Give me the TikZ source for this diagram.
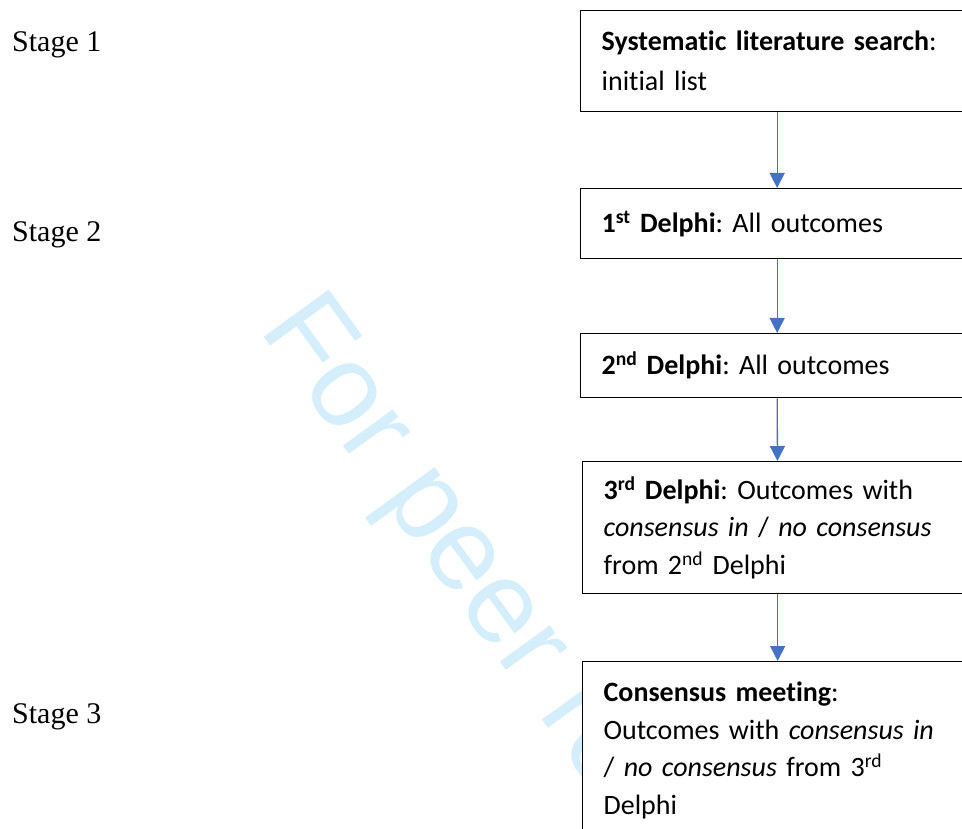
\documentclass[tikz,border=0pt]{standalone}
\usepackage{fontspec}
\usepackage{tikz}
\usetikzlibrary{arrows.meta}
\setmainfont{Carlito}[Ligatures=NoCommon]
\newfontfamily\stagefont{Liberation Serif}
\newfontfamily\markfont{Liberation Sans}
\definecolor{flowblue}{HTML}{4472C4}
\definecolor{markcyan}{HTML}{D4EFFB}
\tikzset{
    stage-box/.style = {draw=black, fill=white, line width=1.3pt, rectangle, anchor=north west, text width=351pt, inner xsep=21pt, inner ysep=0pt, align=left, font=\fontsize{28}{37.5}\selectfont\frenchspacing},
    stage-label/.style = {anchor=base west, inner sep=0pt, font=\stagefont\fontsize{30}{36}\selectfont},
    flow-arrow/.style = {draw=flowblue, line width=1.3pt, -{Triangle[width=15pt,length=15pt]}},
    watermark/.style = {anchor=base west, inner sep=0pt, rotate=-54, text=markcyan, font=\markfont\fontsize{117}{140}\selectfont},
}

\begin{document}
\begin{tikzpicture}[x=1pt, y=-1pt]
\useasboundingbox (0,0) rectangle (962,829);
\clip (0,0) rectangle (962,829);
\node[watermark] (mark) at (258,329) {For peer review only};
\node[stage-label] (stage1) at (12,52) {Stage 1};
\node[stage-label] (stage2) at (12,242) {Stage 2};
\node[stage-label] (stage3) at (12,723) {Stage 3};
\node[stage-box, minimum height=101pt, font=\fontsize{28}{40}\selectfont\frenchspacing] (search) at (580,10) {\textbf{Systematic literature search}:\\ initial list};
\node[stage-box, minimum height=70pt] (delphi1) at (580,188) {\textbf{1\textsuperscript{st} Delphi}: All outcomes};
\node[stage-box, minimum height=64pt] (delphi2) at (580,333) {\textbf{2\textsuperscript{nd} Delphi}: All outcomes};
\node[stage-box, minimum height=132pt, text width=348pt] (delphi3) at (582,461) {\textbf{3\textsuperscript{rd} Delphi}: Outcomes with\\ \textit{consensus in} / \textit{no consensus}\\ from 2\textsuperscript{nd} Delphi};
\node[stage-box, minimum height=178pt, text width=348pt] (meeting) at (582,661) {\textbf{Consensus meeting}:\\ Outcomes with \textit{consensus in}\\ / \textit{no consensus} from 3\textsuperscript{rd}\\ Delphi};
\draw[flow-arrow] (search) -- (delphi1);
\draw[flow-arrow] (delphi1) -- (delphi2);
\draw[flow-arrow] (delphi2) -- (delphi3);
\draw[flow-arrow] (delphi3) -- (meeting);
\end{tikzpicture}
\end{document}
